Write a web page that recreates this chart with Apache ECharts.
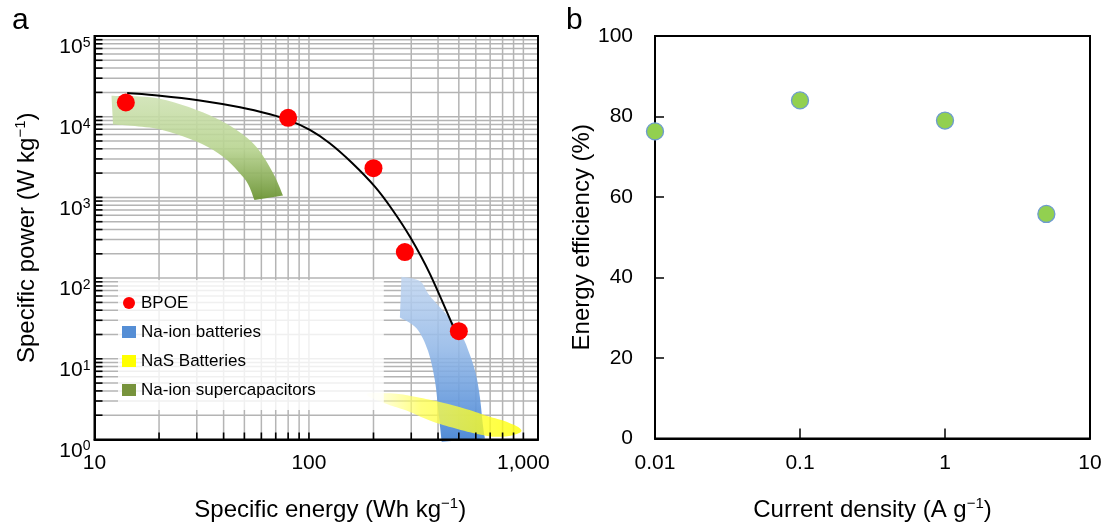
<!DOCTYPE html>
<html>
<head>
<meta charset="utf-8">
<script src="https://cdn.jsdelivr.net/npm/echarts@6/dist/echarts.min.js"></script>
<style>
  html, body { margin: 0; padding: 0; background: #fff; }
  #chart { width: 1105px; height: 527px; }
</style>
</head>
<body>
<div id="chart"></div>
<script>
// ---------- Panel a: Ragone plot ----------
const energyLabels = [10, 100, 1000];
const energyGridValues = [20, 30, 40, 50, 60, 70, 80, 90, 100, 200, 300, 400, 500, 600, 700, 800, 900, 1000];
const powerGridValues = [2, 3, 4, 5, 6, 7, 8, 9, 10,
  20, 30, 40, 50, 60, 70, 80, 90, 100,
  200, 300, 400, 500, 600, 700, 800, 900, 1000,
  2000, 3000, 4000, 5000, 6000, 7000, 8000, 9000, 10000,
  20000, 30000, 40000, 50000, 60000, 70000, 80000, 90000];

const bpoeEnergy = [14, 80, 200, 280, 500];
const bpoePower = [15000, 9700, 2300, 210, 22];

const fitEnergy = [14.2, 20.2, 31, 47.7, 65.8, 81.5, 101, 125, 159, 203, 244, 296, 367, 490];
const fitPower = [19600, 18200, 15900, 13100, 10700, 8940, 6850, 4690, 2670, 1360, 714, 325, 112, 19.6];

// Na-ion supercapacitor region (upper edge, then lower edge back)
const superCapOuterEnergy = [12.0, 20.4, 36.5, 53.7, 67.2, 75.7];
const superCapOuterPower = [18200, 16600, 9720, 4950, 2130, 1057];
const superCapInnerEnergy = [55.7, 49.7, 35.8, 20.9, 12.2];
const superCapInnerPower = [927, 1750, 3880, 6810, 7990];

// Na-ion battery region
const naIonOuterEnergy = [270, 329, 366, 454, 516, 563, 601, 627, 649, 662];
const naIonOuterPower = [104, 92, 60.3, 31.6, 19.6, 11.2, 6.38, 3.34, 1.44, 1.03];
const naIonInnerEnergy = [416, 401, 387, 360, 318, 265.5];
const naIonInnerPower = [0.94, 2.28, 5.29, 12.3, 23.7, 32.5];

// NaS battery region (closed outline)
const nasEnergy = [186, 239, 302, 408, 539, 698, 855, 979, 912, 776, 654, 488, 366, 285, 231];
const nasPower = [3.64, 3.74, 3.44, 2.91, 2.39, 1.91, 1.61, 1.30, 1.15, 1.08, 1.13, 1.36, 1.72, 2.28, 2.75];

// ---------- Panel b: energy efficiency ----------
const currentDensity = [0.01, 0.1, 1, 5];
const energyEfficiency = [76.3, 84, 79, 55.8];
const currentLabels = ['0.01', '0.1', '1', '10'];

const FONT = 'Liberation Sans, Arial, sans-serif';

const zip = (a, b) => a.map((v, i) => [v, b[i]]);
const fmt = p => p[0].toFixed(2) + ' ' + p[1].toFixed(2);

// Catmull-Rom spline through pixel points, as cubic Bezier segments
function curveThrough(pts) {
  let d = '';
  for (let i = 0; i < pts.length - 1; i++) {
    const p0 = pts[Math.max(i - 1, 0)], p1 = pts[i], p2 = pts[i + 1];
    const p3 = pts[Math.min(i + 2, pts.length - 1)];
    const c1 = [p1[0] + (p2[0] - p0[0]) / 6, p1[1] + (p2[1] - p0[1]) / 6];
    const c2 = [p2[0] - (p3[0] - p1[0]) / 6, p2[1] - (p3[1] - p1[1]) / 6];
    d += ' C' + fmt(c1) + ' ' + fmt(c2) + ' ' + fmt(p2);
  }
  return d;
}

function bandSeries(name, color, outer, inner, fill) {
  return {
    name, type: 'custom', xAxisIndex: 0, yAxisIndex: 0, z: 2, silent: true,
    itemStyle: { color },
    data: [outer[0]],
    renderItem(params, api) {
      const a = outer.map(p => api.coord(p));
      const b = inner.map(p => api.coord(p));
      const d = 'M' + fmt(a[0]) + curveThrough(a) + ' L' + fmt(b[0]) + curveThrough(b) + ' Z';
      return { type: 'path', shape: { pathData: d }, style: { fill: fill(), stroke: null } };
    }
  };
}

const lg = (x2, y2, stops) => () => new echarts.graphic.LinearGradient(0, 0, x2, y2,
  stops.map(s => ({ offset: s[0], color: s[1] })));

function expLabel(v) {
  const e = Math.round(Math.log10(v));
  if (Math.abs(Math.pow(10, e) - v) / v > 1e-6) return '';
  return '{b|10}{s|' + e + '}';
}

const titleRich = {
  t: { fontSize: 24, fontFamily: FONT, color: '#000', lineHeight: 27 },
  u: { fontSize: 15, fontFamily: FONT, color: '#000', lineHeight: 15, verticalAlign: 'top' }
};

const chart = echarts.init(document.getElementById('chart'), null, { renderer: 'canvas' });

chart.setOption({
  animation: false,
  backgroundColor: '#fff',
  textStyle: { fontFamily: FONT },
  graphic: [
    { type: 'text', left: 12, top: 6, style: { text: 'a', fontSize: 30, fontFamily: FONT, fill: '#000' } },
    { type: 'text', left: 566, top: 6, style: { text: 'b', fontSize: 30, fontFamily: FONT, fill: '#000' } }
  ],
  grid: [
    { left: 94.5, top: 36, width: 443.5, height: 410, show: true, borderColor: '#000', borderWidth: 2, z: 3 },
    { left: 655, top: 36, width: 435, height: 411, show: true, borderColor: '#000', borderWidth: 2 }
  ],
  legend: {
    left: 118, top: 280, orient: 'vertical',
    itemWidth: 14, itemHeight: 12, itemGap: 11,
    padding: [14, 68, 11, 4],
    backgroundColor: 'rgba(255,255,255,0.8)',
    textStyle: { fontSize: 17, lineHeight: 18, fontFamily: FONT, color: '#000' },
    selectedMode: false,
    data: [
      { name: 'BPOE', icon: 'circle' },
      { name: 'Na-ion batteries', icon: 'rect' },
      { name: 'NaS Batteries', icon: 'rect' },
      { name: 'Na-ion supercapacitors', icon: 'rect' }
    ]
  },
  xAxis: [
    {
      type: 'log', logBase: 10, gridIndex: 0, min: 10, max: 1170, z: 3,
      name: '{t|Specific energy (Wh kg}{u|−1}{t|)}',
      nameLocation: 'middle', nameGap: 57,
      nameTextStyle: { padding: [0, 0, 0, 28], rich: titleRich },
      axisLine: { lineStyle: { color: '#000', width: 2 } },
      axisTick: { show: false },
      splitLine: { show: false },
      axisLabel: {
        fontSize: 21, fontFamily: FONT, color: '#000', margin: 13,
        formatter: v => {
          const t = energyLabels.find(e => Math.abs(e - v) / e < 1e-6);
          return t ? t.toLocaleString('en-US') : '';
        }
      }
    },
    {
      type: 'log', logBase: 10, gridIndex: 1, min: 0.01, max: 10,
      name: '{t|Current density (A g}{u|−1}{t|)}',
      nameLocation: 'middle', nameGap: 58,
      nameTextStyle: { rich: titleRich },
      axisLine: { lineStyle: { color: '#000', width: 2 } },
      axisTick: { show: true, inside: true, length: 10, lineStyle: { color: '#000', width: 1.5 } },
      splitLine: { show: false },
      axisLabel: {
        fontSize: 21, fontFamily: FONT, color: '#000', margin: 14,
        formatter: v => {
          const t = currentLabels.find(s => Math.abs(parseFloat(s) - v) / v < 1e-6);
          return t || '';
        }
      }
    }
  ],
  yAxis: [
    {
      type: 'log', logBase: 10, gridIndex: 0, min: 1, max: 100000, z: 3,
      name: '{t|Specific power (W kg}{u|−1}{t|)}',
      nameLocation: 'middle', nameGap: 54,
      nameTextStyle: { rich: titleRich },
      axisLine: { lineStyle: { color: '#000', width: 2 } },
      axisTick: { show: false },
      splitLine: { show: false },
      axisLabel: {
        margin: 4, verticalAlign: 'top', color: '#000',
        formatter: expLabel,
        rich: {
          b: { fontSize: 21, fontFamily: FONT, color: '#000', lineHeight: 22, verticalAlign: 'bottom' },
          s: { fontSize: 14, fontFamily: FONT, color: '#000', lineHeight: 14, verticalAlign: 'top' }
        }
      }
    },
    {
      type: 'value', gridIndex: 1, min: 0, max: 100, interval: 20,
      name: 'Energy efficiency (%)',
      nameLocation: 'middle', nameGap: 59,
      nameTextStyle: { fontSize: 24, fontFamily: FONT, color: '#000' },
      axisLine: { lineStyle: { color: '#000', width: 2 } },
      axisTick: { show: true, inside: true, length: 9, lineStyle: { color: '#000', width: 1.5 } },
      splitLine: { show: false },
      axisLabel: { fontSize: 21, fontFamily: FONT, color: '#000', margin: 22 }
    }
  ],
  series: [
    // log grid, vertical lines
    {
      type: 'custom', xAxisIndex: 0, yAxisIndex: 0, z: 1, silent: true,
      data: energyGridValues.map(v => [v, 1]),
      renderItem(params, api) {
        const cs = params.coordSys;
        const x = api.coord([api.value(0), 1])[0];
        return { type: 'line', shape: { x1: x, y1: cs.y, x2: x, y2: cs.y + cs.height },
          style: { stroke: '#b4b4b4', lineWidth: 1.5 } };
      }
    },
    // log grid, horizontal lines
    {
      type: 'custom', xAxisIndex: 0, yAxisIndex: 0, z: 1, silent: true,
      data: powerGridValues.map(v => [10, v]),
      renderItem(params, api) {
        const cs = params.coordSys;
        const y = api.coord([10, api.value(1)])[1];
        return { type: 'line', shape: { x1: cs.x, y1: y, x2: cs.x + cs.width, y2: y },
          style: { stroke: '#b4b4b4', lineWidth: 1.5 } };
      }
    },
    bandSeries('Na-ion supercapacitors', '#77933c',
      zip(superCapOuterEnergy, superCapOuterPower), zip(superCapInnerEnergy, superCapInnerPower),
      lg(0, 1, [[0, 'rgba(206,226,178,0.88)'], [0.5, 'rgba(184,212,144,0.9)'], [1, 'rgba(108,148,52,0.95)']])),
    bandSeries('Na-ion batteries', '#558ed5',
      zip(naIonOuterEnergy, naIonOuterPower), zip(naIonInnerEnergy, naIonInnerPower),
      lg(0, 1, [[0, 'rgba(192,213,240,0.85)'], [0.45, 'rgba(145,183,231,0.88)'], [1, 'rgba(70,132,212,0.95)']])),
    {
      name: 'NaS Batteries', type: 'custom', xAxisIndex: 0, yAxisIndex: 0, z: 2, silent: true,
      itemStyle: { color: '#ffff00' },
      data: [[nasEnergy[0], nasPower[0]]],
      renderItem(params, api) {
        const pts = nasEnergy.map((e, i) => api.coord([e, nasPower[i]]));
        return {
          type: 'polygon', shape: { points: pts, smooth: 0.45 },
          style: {
            fill: new echarts.graphic.LinearGradient(0, 0, 1, 0, [
              { offset: 0, color: 'rgba(255,255,200,0.4)' },
              { offset: 0.35, color: 'rgba(255,255,80,0.75)' },
              { offset: 1, color: 'rgba(255,255,0,0.8)' }
            ]),
            stroke: null
          }
        };
      }
    },
    // minor ticks along the energy axis
    {
      type: 'custom', xAxisIndex: 0, yAxisIndex: 0, z: 6, silent: true,
      data: energyGridValues.map(v => [v, 1]),
      renderItem(params, api) {
        const cs = params.coordSys;
        const x = api.coord([api.value(0), 1])[0];
        const yb = cs.y + cs.height;
        return { type: 'line', shape: { x1: x, y1: yb, x2: x, y2: yb - 7 },
          style: { stroke: '#000', lineWidth: 1.6 } };
      }
    },
    // minor ticks along the power axis
    {
      type: 'custom', xAxisIndex: 0, yAxisIndex: 0, z: 6, silent: true,
      data: powerGridValues.map(v => [10, v]),
      renderItem(params, api) {
        const cs = params.coordSys;
        const y = api.coord([10, api.value(1)])[1];
        return { type: 'line', shape: { x1: cs.x, y1: y, x2: cs.x + 8, y2: y },
          style: { stroke: '#000', lineWidth: 1.6 } };
      }
    },
    // fitted BPOE trend, drawn as a spline through the fit points
    {
      name: 'BPOE fit', type: 'custom', xAxisIndex: 0, yAxisIndex: 0, z: 4, silent: true,
      data: [[fitEnergy[0], fitPower[0]]],
      renderItem(params, api) {
        const pts = fitEnergy.map((e, i) => api.coord([e, fitPower[i]]));
        return { type: 'path', shape: { pathData: 'M' + fmt(pts[0]) + curveThrough(pts) },
          style: { fill: null, stroke: '#000', lineWidth: 2 } };
      }
    },
    {
      name: 'BPOE', type: 'scatter', xAxisIndex: 0, yAxisIndex: 0, z: 5,
      data: zip(bpoeEnergy, bpoePower), symbolSize: 18,
      itemStyle: { color: '#ff0000', opacity: 1 }
    },
    {
      name: 'Energy efficiency', type: 'scatter', xAxisIndex: 1, yAxisIndex: 1, z: 5,
      data: zip(currentDensity, energyEfficiency), symbolSize: 17,
      itemStyle: { color: '#92d050', borderColor: '#6d9bcf', borderWidth: 1.3, opacity: 1 }
    }
  ]
});
</script>
</body>
</html>
